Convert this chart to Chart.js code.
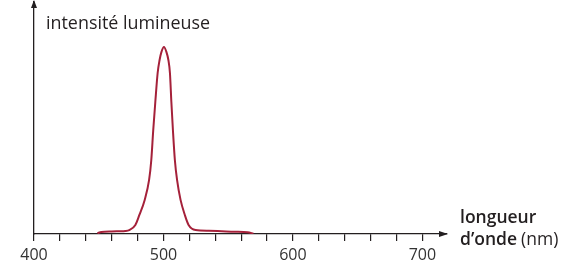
<!DOCTYPE html>
<html><head><meta charset="utf-8">
<script src="https://cdn.jsdelivr.net/npm/chart.js@4"></script>
<style>html,body{margin:0;padding:0;background:#fff}#w{width:573px;height:272px;position:relative}</style>
</head><body><div id="w"><canvas id="c"></canvas></div>
<script>
// wavelength (nm) and relative light intensity
const wavelengths = [449, 452, 460, 466, 470.5, 473.6, 478.3, 481.4, 485.5, 488.9, 490.6, 492.1, 493.7, 495.5, 497.0, 498.4, 500.4, 502.3, 503.8, 505.0, 506.1, 507.3, 508.8, 510.5, 513.2, 516.5, 519.4, 524.8, 535, 545, 555, 565, 569.5];
const intensity   = [0.3, 0.9, 1.1, 1.2, 1.3, 1.7, 3.9, 8.2, 14.7, 23.3, 31.9, 44.8, 56.9, 69.4, 75.0, 78.4, 80.6, 78.4, 75.0, 69.4, 56.9, 44.8, 31.9, 23.3, 14.7, 8.2, 3.9, 1.7, 1.4, 1.2, 1.0, 0.8, 0.1];
const xTickLabels = [400, 500, 600, 700];
const yAxisTitle = 'intensité lumineuse';
const xAxisTitle1 = 'longueur';
const xAxisTitle2 = 'd’onde';
const xAxisUnit = '(nm)';

const points = wavelengths.map((w, i) => ({x: w, y: intensity[i]}));
const ink = '#231f20';

const decor = {
  id: 'decor',
  afterDraw(chart) {
    const ctx = chart.ctx, a = chart.chartArea;
    ctx.save();
    ctx.fillStyle = ink; ctx.strokeStyle = ink; ctx.lineWidth = 1.3;
    // y-axis arrow
    ctx.beginPath(); ctx.moveTo(a.left, a.top); ctx.lineTo(a.left, 6); ctx.stroke();
    ctx.beginPath(); ctx.moveTo(a.left, 0); ctx.lineTo(a.left - 3, 8); ctx.lineTo(a.left + 3, 8); ctx.closePath(); ctx.fill();
    // x-axis arrow
    ctx.beginPath(); ctx.moveTo(a.right + 1, a.bottom); ctx.lineTo(a.right - 8, a.bottom - 3); ctx.lineTo(a.right - 8, a.bottom + 3); ctx.closePath(); ctx.fill();
    // titles
    ctx.textBaseline = 'alphabetic'; ctx.textAlign = 'left';
    ctx.font = '500 17.9px "Open Sans"';
    ctx.fillText(yAxisTitle, 46, 29);
    ctx.font = '600 17.5px "Open Sans"';
    ctx.fillText(xAxisTitle1, 460, 223);
    ctx.fillText(xAxisTitle2, 460, 245);
    const w2 = ctx.measureText(xAxisTitle2).width;
    ctx.font = '400 17.5px "Open Sans"';
    ctx.fillText(xAxisUnit, 460 + w2 + 4, 245);
    ctx.restore();
  }
};

new Chart(document.getElementById('c'), {
  type: 'line',
  data: { datasets: [{
    data: points,
    borderColor: '#a5213a',
    borderWidth: 2,
    pointRadius: 0,
    fill: false,
    cubicInterpolationMode: 'monotone'
  }]},
  options: {
    responsive: true, maintainAspectRatio: false, animation: false, devicePixelRatio: 1,
    layout: { padding: { top: 2, right: 126, left: 0, bottom: 0 } },
    plugins: { legend: { display: false }, tooltip: { enabled: false } },
    scales: {
      x: {
        type: 'linear', min: 400, max: 719,
        afterFit: s => { s.height = 38; },
        ticks: {
          stepSize: 20, includeBounds: false, autoSkip: false, maxRotation: 0,
          callback: v => xTickLabels.includes(v) ? String(v) : '',
          font: { family: '"Open Sans"', size: 16 }, color: '#333', padding: 5
        },
        grid: { drawOnChartArea: false, drawTicks: true, tickLength: 7, color: ink, lineWidth: 1.2 },
        border: { display: true, color: ink, width: 1.3 }
      },
      y: {
        min: 0, max: 100,
        afterFit: s => { s.width = 34; },
        ticks: { display: false },
        grid: { display: false, drawTicks: false },
        border: { display: true, color: ink, width: 1.3 }
      }
    }
  },
  plugins: [decor]
});
</script>
</body></html>
